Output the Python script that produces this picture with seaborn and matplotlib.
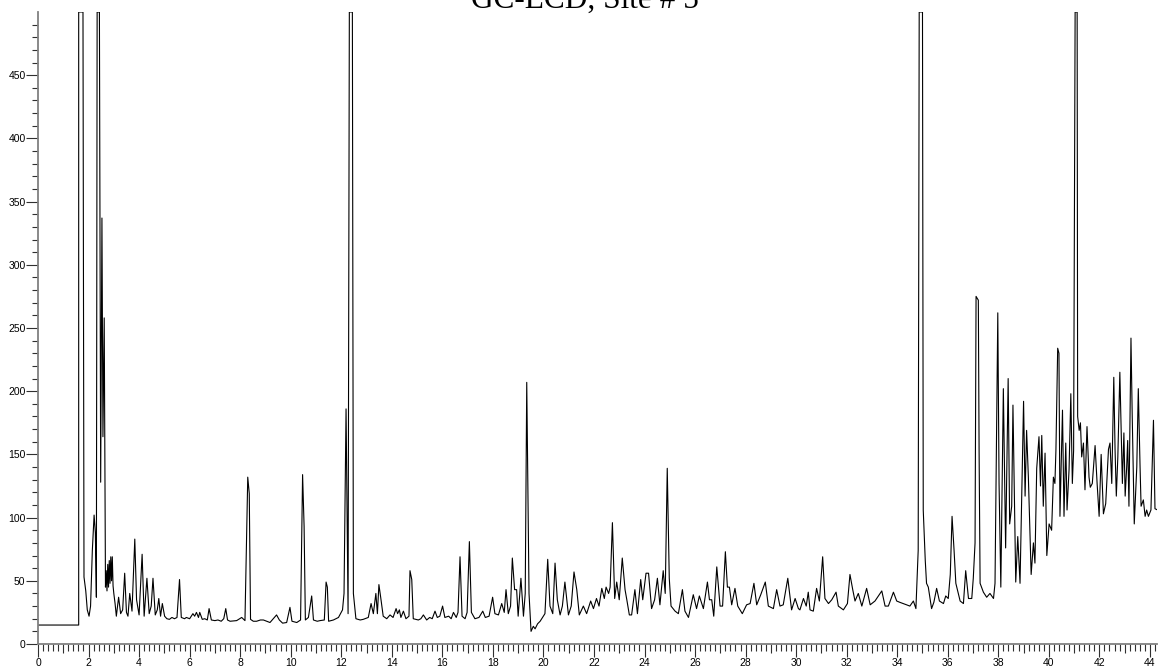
import matplotlib
matplotlib.use('Agg')
import matplotlib.pyplot as plt
import seaborn as sns
import pandas as pd
from matplotlib import font_manager
from matplotlib.ticker import FixedLocator, FuncFormatter

# ---- data: retention time (min) and detector signal ----
time_min = [
    0, 1.61, 1.61, 1.63, 1.78, 1.82, 1.89, 1.95, 2.02, 2.08, 2.15, 2.22, 2.27, 2.31, 2.34, 2.43, 2.48, 2.53, 2.57, 2.62, 2.67,
    2.70, 2.73, 2.76, 2.79, 2.82, 2.85, 2.88, 2.91, 2.94, 2.97, 3.0, 3.05, 3.1, 3.19, 3.27, 3.35, 3.43, 3.5, 3.56, 3.63,
    3.72, 3.83, 3.9, 4.0, 4.12, 4.2, 4.31, 4.4, 4.48, 4.55, 4.64, 4.72, 4.78, 4.85, 4.92, 5.01, 5.1, 5.2, 5.3, 5.4, 5.5,
    5.6, 5.67, 5.8, 5.87, 6.0, 6.13, 6.2, 6.27, 6.35, 6.4, 6.5, 6.6, 6.7, 6.77, 6.86, 7.0, 7.12, 7.25, 7.35, 7.43, 7.5,
    7.6, 7.86, 8.06, 8.19, 8.3, 8.36, 8.41, 8.52, 8.65, 8.8, 8.92, 9.05, 9.18, 9.35, 9.44, 9.55, 9.68, 9.84, 9.97, 10.05,
    10.24, 10.39, 10.47, 10.53, 10.58, 10.7, 10.83, 10.9, 11.05, 11.16, 11.33, 11.4, 11.45, 11.5, 11.69, 11.89, 12.05,
    12.11, 12.19, 12.27, 12.32, 12.44, 12.48, 12.58, 12.75, 12.87, 13.07, 13.18, 13.27, 13.37, 13.43, 13.49, 13.56, 13.66,
    13.8, 13.93, 14.05, 14.17, 14.23, 14.3, 14.36, 14.46, 14.56, 14.68, 14.72, 14.79, 14.85, 15.05, 15.15, 15.25, 15.38,
    15.5, 15.6, 15.71, 15.8, 15.9, 16.01, 16.1, 16.25, 16.35, 16.44, 16.55, 16.62, 16.7, 16.78, 16.9, 16.98, 17.07, 17.15,
    17.29, 17.45, 17.6, 17.7, 17.85, 17.99, 18.08, 18.22, 18.35, 18.45, 18.52, 18.61, 18.7, 18.77, 18.86, 18.94, 19.0,
    19.11, 19.21, 19.28, 19.34, 19.43, 19.51, 19.6, 19.67, 19.77, 19.87, 20.06, 20.17, 20.26, 20.37, 20.46, 20.55, 20.66,
    20.75, 20.85, 20.99, 21.1, 21.21, 21.32, 21.42, 21.58, 21.71, 21.87, 21.98, 22.1, 22.2, 22.31, 22.41, 22.48, 22.58,
    22.64, 22.73, 22.82, 22.9, 23.0, 23.12, 23.23, 23.3, 23.4, 23.49, 23.62, 23.72, 23.85, 23.93, 24.06, 24.16, 24.28,
    24.4, 24.51, 24.61, 24.74, 24.82, 24.9, 24.98, 25.05, 25.21, 25.34, 25.5, 25.6, 25.74, 25.93, 26.06, 26.17, 26.33,
    26.49, 26.57, 26.66, 26.74, 26.86, 26.99, 27.09, 27.2, 27.28, 27.36, 27.45, 27.58, 27.69, 27.87, 28.04, 28.18, 28.33,
    28.44, 28.6, 28.78, 28.9, 29.1, 29.23, 29.36, 29.49, 29.67, 29.82, 29.96, 30.09, 30.15, 30.29, 30.4, 30.48, 30.55,
    30.68, 30.81, 30.92, 31.05, 31.14, 31.28, 31.41, 31.58, 31.67, 31.87, 32.03, 32.13, 32.24, 32.33, 32.46, 32.6, 32.79,
    32.93, 33.12, 33.39, 33.52, 33.65, 33.85, 33.98, 34.1, 34.24, 34.37, 34.5, 34.64, 34.74, 34.83, 34.87, 35.0, 35.03,
    35.11, 35.16, 35.23, 35.36, 35.45, 35.56, 35.67, 35.83, 35.92, 36.02, 36.1, 36.17, 36.25, 36.32, 36.49, 36.62, 36.71,
    36.82, 36.95, 37.01, 37.08, 37.12, 37.21, 37.24, 37.28, 37.41, 37.54, 37.67, 37.81, 37.87, 37.98, 38.03, 38.1, 38.2,
    38.29, 38.39, 38.45, 38.53, 38.58, 38.69, 38.77, 38.86, 39.0, 39.06, 39.12, 39.19, 39.3, 39.39, 39.45, 39.52, 39.61,
    39.67, 39.72, 39.78, 39.85, 39.92, 40.01, 40.11, 40.18, 40.24, 40.28, 40.35, 40.4, 40.44, 40.54, 40.6, 40.67, 40.72,
    40.8, 40.87, 40.93, 40.98, 41.04, 41.12, 41.14, 41.2, 41.25, 41.3, 41.37, 41.43, 41.51, 41.59, 41.64, 41.72, 41.83,
    41.91, 41.99, 42.07, 42.16, 42.25, 42.36, 42.42, 42.49, 42.57, 42.62, 42.67, 42.73, 42.81, 42.86, 42.91, 42.97, 43.02,
    43.08, 43.12, 43.17, 43.25, 43.3, 43.38, 43.48, 43.54, 43.61, 43.65, 43.74, 43.81, 43.87, 43.94, 44.04, 44.14, 44.2,
    44.31,
]
signal = [
    15, 15, 500, 500, 500, 53, 42, 27, 22, 30, 74, 102, 88, 37, 500, 500, 128, 337, 164, 258, 45,
    58, 42, 63, 45, 66, 48, 69, 50, 69, 46, 40, 32, 22, 37, 24, 27, 56, 25, 22, 40,
    26, 83, 35, 23, 71, 22, 52, 24, 30, 52, 23, 27, 36, 22, 32, 22, 20, 19.5, 21, 20, 21,
    51, 21, 20, 21, 20, 24, 22, 25, 21, 25, 19.5, 20, 19, 28, 19, 18.5, 19, 18, 20, 28, 19,
    18, 18.5, 21, 18.5, 132, 119, 19.5, 18, 18, 19, 19, 18, 17, 21, 23, 19, 16.5, 17, 29, 18,
    17, 19, 134, 93, 19, 21, 38, 19, 18, 18.5, 19, 49, 45, 18, 19, 21, 27,
    40, 186, 24, 500, 500, 40, 20, 19, 19.5, 21, 32, 24, 40, 24, 47, 37, 22,
    20, 23, 21, 28, 24, 27, 21, 26, 20, 22, 58, 51, 20, 19, 20, 23, 19,
    21, 20, 26, 21, 22, 30, 21, 22, 20, 25, 21, 25, 69, 22, 20, 25, 81, 25,
    20, 21, 26, 21, 22, 37, 24, 23, 32, 25, 43, 24, 30, 68, 43, 43, 22,
    52, 22, 40, 207, 40, 10, 14, 12, 16, 18, 24, 67, 30, 24, 64, 35, 23,
    30, 49, 23, 30, 57, 43, 23, 30, 24, 34, 28, 36, 30, 44, 36, 45, 40,
    45, 96, 36, 49, 35, 68, 43, 35, 23, 23, 43, 24, 51, 35, 56, 56, 28,
    35, 52, 31, 58, 40, 139, 52, 30, 26, 24, 43, 26, 21, 39, 28, 38, 28,
    49, 35, 35, 22, 61, 30, 30, 73, 45, 45, 31, 44, 30, 24, 31, 32, 48,
    31, 39, 49, 30, 28, 43, 30, 31, 52, 27, 36, 28, 27, 36, 30, 41, 27,
    26, 44, 34, 69, 36, 32, 35, 41, 30, 27, 32, 55, 43, 34, 40, 30, 44,
    31, 34, 42, 30, 30, 41, 34, 33, 32, 31, 30, 34, 28, 74, 500, 500, 106,
    66, 48, 45, 28, 33, 44, 34, 32, 38, 36, 55, 101, 74, 48, 34, 32, 58,
    36, 36, 52, 80, 275, 272, 153, 48, 41, 37, 40, 36, 48, 262, 127, 45, 202,
    76, 210, 95, 109, 189, 49, 85, 48, 192, 117, 169, 132, 55, 80, 64, 139, 164,
    125, 165, 109, 151, 70, 95, 90, 132, 127, 153, 234, 230, 101, 185, 101, 159, 106,
    138, 198, 127, 153, 500, 500, 180, 169, 175, 148, 159, 122, 172, 132, 124, 127, 157,
    127, 101, 150, 103, 111, 154, 159, 127, 211, 154, 117, 148, 215, 169, 127, 167, 117,
    140, 161, 109, 242, 180, 95, 140, 202, 140, 109, 114, 101, 106, 101, 106, 177, 107,
    106,
]
title_text = "GC-ECD, Site # 5"
y_major = list(range(0, 451, 50))
x_major = list(range(0, 45, 2))

# ---- style ----
sns.set_theme(style='white')
names = {f.name for f in font_manager.fontManager.ttflist}
tick_font = 'Liberation Sans Narrow' if 'Liberation Sans Narrow' in names else 'Liberation Sans'
plt.rcParams['font.family'] = [tick_font, 'DejaVu Sans']

W, H = 1158, 671
fig = plt.figure(figsize=(W / 100, H / 100), dpi=100)
ax = fig.add_axes([38 / W, 27 / H, 1119 / W, 632 / H])

df = pd.DataFrame({'time': time_min, 'signal': signal})
sns.lineplot(data=df, x='time', y='signal', ax=ax, color='black', linewidth=0.8,
             estimator=None, sort=False)

ax.set_xlim(0, 44.28)
ax.set_ylim(0, 500)
ax.set_xlabel('')
ax.set_ylabel('')

for s in ['top', 'right']:
    ax.spines[s].set_visible(False)
for s in ['left', 'bottom']:
    ax.spines[s].set_color('#808080')
    ax.spines[s].set_linewidth(1.3)

# y ticks
ax.yaxis.set_major_locator(FixedLocator(y_major))
ax.yaxis.set_minor_locator(FixedLocator([v for v in range(10, 500, 10) if v % 50 != 0]))
ax.yaxis.set_major_formatter(FuncFormatter(lambda v, p: f"{int(round(v))}"))
# x ticks: majors every 1 (labels only on even), minors every 0.2
x_all = list(range(0, 45))
ax.xaxis.set_major_locator(FixedLocator(x_all))
ax.xaxis.set_minor_locator(FixedLocator([i / 5 for i in range(0, 222) if i % 5 != 0]))
ax.xaxis.set_major_formatter(FuncFormatter(lambda v, p: f"{int(round(v))}" if int(round(v)) in x_major else ""))

ax.tick_params(axis='both', which='both', direction='out', colors='#303030', width=0.8,
               labelsize=7.5, labelcolor='black', bottom=True, left=True, top=False, right=False)
ax.tick_params(axis='y', which='major', length=8.5, pad=0.5)
ax.tick_params(axis='y', which='minor', length=4.5)
ax.tick_params(axis='x', which='major', length=9.4, pad=1)
ax.tick_params(axis='x', which='minor', length=4.8)
for t, v in zip(ax.xaxis.get_major_ticks(), x_all):
    if v % 2 == 1:
        t.tick1line.set_markersize(6.8)

fig.text(584.5 / W, 1 - 8.3 / H, title_text, ha='center', va='baseline',
         fontsize=22.5, family=['Liberation Serif', 'DejaVu Serif'], color='black')

fig.savefig('out.png', dpi=100)
